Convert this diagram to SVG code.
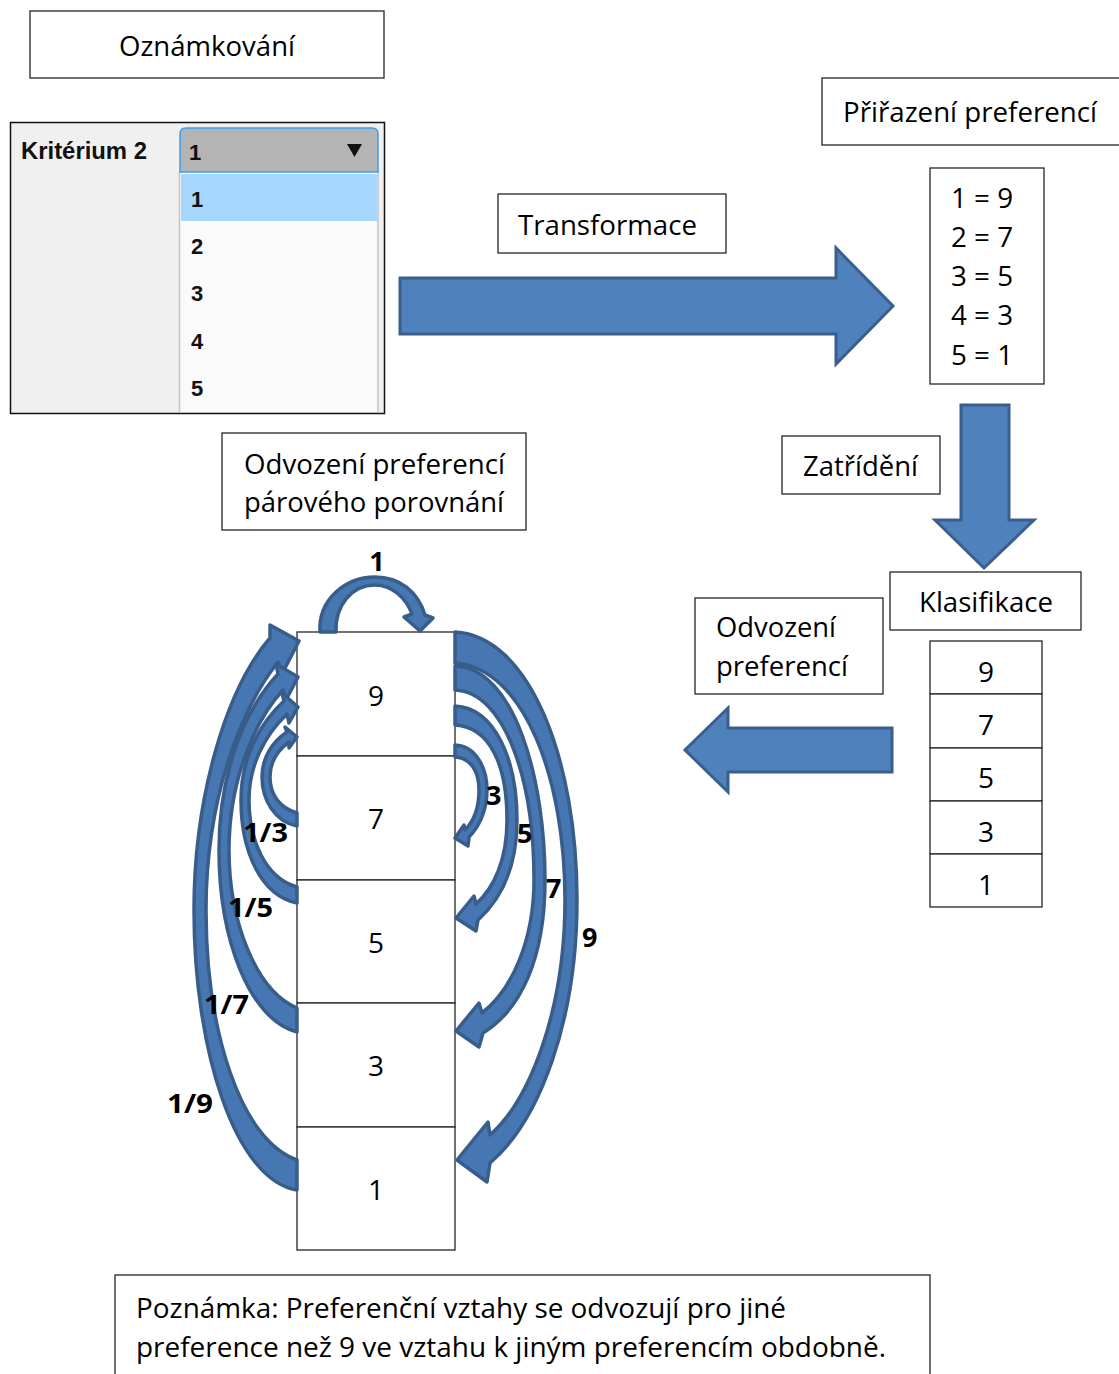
<svg xmlns="http://www.w3.org/2000/svg" width="1119" height="1374" viewBox="0 0 1119 1374">
<style>
.box{fill:#fff;stroke:#262626;stroke-width:1.3}
.t{font-family:"Open Sans","Noto Sans",sans-serif;font-size:28px;fill:#000}
.c{text-anchor:middle}
.b{font-family:"Open Sans","Noto Sans",sans-serif;font-size:27px;font-weight:bold;fill:#000}
.ui{font-family:"Liberation Sans",Arial,sans-serif;font-weight:bold;fill:#111}
.arr{fill:#4f81bd;stroke:#3a5f8d;stroke-width:3;stroke-linejoin:miter}
.carr{fill:#4677b2;stroke:#395d8b;stroke-width:3.5;stroke-linejoin:round}
</style>
<rect width="1119" height="1374" fill="#fff"/>

<g id="oznamkovani">
<rect class="box" x="30" y="11" width="354" height="67"/>
<text class="t" x="119" y="56" textLength="176" lengthAdjust="spacingAndGlyphs">Oznámkování</text>
</g>

<g id="dropdown">
<rect x="10.5" y="122.5" width="374" height="291" fill="#f0f0f0" stroke="#111" stroke-width="1.5"/>
<rect x="179" y="172" width="199" height="240" fill="#fafafa"/>
<line x1="179.5" y1="172" x2="179.5" y2="412" stroke="#c4c4c4" stroke-width="1.5"/>
<line x1="378" y1="172" x2="378" y2="412" stroke="#c4c4c4" stroke-width="1.5"/>
<rect x="181" y="174" width="196" height="47" fill="#a6d8ff"/>
<path d="M180,172 L180,134 Q180,128 186,128 L372,128 Q378,128 378,134 L378,172 Z" fill="#b4b4b4" stroke="#3a9ff0" stroke-width="1.5"/>
<polygon points="347,144 362,144 354.5,157" fill="#111"/>
<text class="ui" x="21" y="159" font-size="24" textLength="126" lengthAdjust="spacingAndGlyphs">Kritérium 2</text>
<text class="ui" x="189" y="160" font-size="22">1</text>
<text class="ui" x="191" y="207" font-size="22">1</text>
<text class="ui" x="191" y="254" font-size="22">2</text>
<text class="ui" x="191" y="301" font-size="22">3</text>
<text class="ui" x="191" y="349" font-size="22">4</text>
<text class="ui" x="191" y="396" font-size="22">5</text>
</g>

<g id="transformace">
<rect class="box" x="498" y="194" width="228" height="59"/>
<text class="t" x="518" y="235" textLength="179" lengthAdjust="spacingAndGlyphs">Transformace</text>
</g>

<g id="prirazeni">
<rect class="box" x="822" y="78" width="310" height="67"/>
<text class="t" x="843" y="122" textLength="254" lengthAdjust="spacingAndGlyphs">Přiřazení preferencí</text>
</g>

<g id="mapovani">
<rect class="box" x="930" y="168" width="114" height="216"/>
<text class="t" x="951" y="208" textLength="62" lengthAdjust="spacingAndGlyphs">1 = 9</text>
<text class="t" x="951" y="247" textLength="62" lengthAdjust="spacingAndGlyphs">2 = 7</text>
<text class="t" x="951" y="286" textLength="62" lengthAdjust="spacingAndGlyphs">3 = 5</text>
<text class="t" x="951" y="325" textLength="62" lengthAdjust="spacingAndGlyphs">4 = 3</text>
<text class="t" x="951" y="365" textLength="62" lengthAdjust="spacingAndGlyphs">5 = 1</text>
</g>

<g id="zatrideni">
<rect class="box" x="782" y="436" width="158" height="58"/>
<text class="t" x="803" y="476" textLength="115" lengthAdjust="spacingAndGlyphs">Zatřídění</text>
</g>

<g id="klasifikace">
<rect class="box" x="890" y="572" width="191" height="58"/>
<text class="t" x="919" y="612" textLength="134" lengthAdjust="spacingAndGlyphs">Klasifikace</text>
</g>

<g id="odvozeni-preferenci">
<rect class="box" x="695" y="598" width="188" height="96"/>
<text class="t" x="716" y="637" textLength="120" lengthAdjust="spacingAndGlyphs">Odvození</text>
<text class="t" x="716" y="676" textLength="132" lengthAdjust="spacingAndGlyphs">preferencí</text>
</g>

<g id="klasifikace-stack">
<rect class="box" x="930" y="641" width="112" height="53"/>
<rect class="box" x="930" y="694" width="112" height="54"/>
<rect class="box" x="930" y="748" width="112" height="53"/>
<rect class="box" x="930" y="801" width="112" height="53"/>
<rect class="box" x="930" y="854" width="112" height="53"/>
<text class="t c" x="986" y="682">9</text>
<text class="t c" x="986" y="735">7</text>
<text class="t c" x="986" y="788">5</text>
<text class="t c" x="986" y="842">3</text>
<text class="t c" x="986" y="895">1</text>
</g>

<g id="odvozeni-parove">
<rect class="box" x="222" y="433" width="304" height="97"/>
<text class="t" x="244" y="474" textLength="261" lengthAdjust="spacingAndGlyphs">Odvození preferencí</text>
<text class="t" x="244" y="512" textLength="260" lengthAdjust="spacingAndGlyphs">párového porovnání</text>
</g>

<g id="stack-9"><rect class="box" x="297" y="632" width="158" height="124"/><text class="t c" x="376" y="706">9</text></g>
<g id="stack-7"><rect class="box" x="297" y="756" width="158" height="124"/><text class="t c" x="376" y="829">7</text></g>
<g id="stack-5"><rect class="box" x="297" y="880" width="158" height="123"/><text class="t c" x="376" y="953">5</text></g>
<g id="stack-3"><rect class="box" x="297" y="1003" width="158" height="124"/><text class="t c" x="376" y="1076">3</text></g>
<g id="stack-1"><rect class="box" x="297" y="1127" width="158" height="123"/><text class="t c" x="376" y="1200">1</text></g>

<g id="poznamka">
<rect class="box" x="115" y="1275" width="815" height="130"/>
<text class="t" x="136" y="1318" textLength="650" lengthAdjust="spacingAndGlyphs">Poznámka: Preferenční vztahy se odvozují pro jiné</text>
<text class="t" x="136" y="1357" textLength="750" lengthAdjust="spacingAndGlyphs">preference než 9 ve vztahu k jiným preferencím obdobně.</text>
</g>

<g id="connectors">
<polygon class="arr" points="400,278 836,278 836,248 893,306 836,364 836,334 400,334"/>
<polygon class="arr" points="961,405 1009,405 1009,520 1034,520 984,568 935,520 961,520"/>
<polygon class="arr" points="892,728 728,728 728,708 685,750 728,792 728,772 892,772"/>

<path class="carr" d="M320,632 C318,600 345,577 375,577 C400,577 418,592 425,615 L433,618 L420,631 L404,617 L412,614 C406,598 392,585 375,585 C352,585 335,605 336,632 Z"/>

<path class="carr" d="M455,632 C530,636 577,760 577,900 C577,1020 540,1120 490,1163 L487,1182 L457,1160 L488,1122 L490,1135 C530,1100 565,1010 565,900 C565,780 525,668 455,663 Z"/>
<path class="carr" d="M455,666 C515,668 545,780 545,880 C545,960 520,1010 483,1033 L479,1047 L456,1031 L479,1003 L482,1013 C512,990 534,940 534,880 C534,780 505,692 455,690 Z"/>
<path class="carr" d="M455,706 C495,708 517,760 517,820 C517,870 500,900 478,920 L476,931 L456,918 L474,896 L476,904 C494,888 507,860 507,820 C507,765 490,727 455,725 Z"/>
<path class="carr" d="M455,745 C476,746 487,768 487,790 C487,812 478,828 469,837 L468,846 L455,838 L464,825 L465,830 C473,822 479,808 479,790 C479,770 470,758 455,757 Z"/>

<path class="carr" d="M297,1160 C240,1140 206,1030 206,910 C206,800 240,710 278,662 L283,672 L299,641 L270,625 L270,638 C225,690 194,800 194,910 C194,1050 235,1180 297,1190 Z"/>
<path class="carr" d="M297,1008 C255,990 229,920 229,850 C229,780 255,720 283,690 L286,700 L298,677 L276,664 L278,674 C240,715 219,780 219,850 C219,940 250,1020 297,1032 Z"/>
<path class="carr" d="M297,887 C265,878 249,840 249,800 C249,765 265,735 287,714 L289,723 L298,707 L282,693 L284,701 C258,725 241,760 241,800 C241,850 260,895 297,903 Z"/>
<path class="carr" d="M297,813 C280,808 270,795 270,777 C270,762 278,750 289,742 L289,748 L297,737 L285,727 L287,732 C272,742 262,758 262,777 C262,800 275,822 297,826 Z"/>

<text class="b c" x="377" y="571">1</text>
<text class="b" x="486" y="805">3</text>
<text class="b" x="517" y="843">5</text>
<text class="b" x="546" y="898">7</text>
<text class="b" x="582" y="947">9</text>
<text class="b" x="243" y="842" textLength="45" lengthAdjust="spacingAndGlyphs">1/3</text>
<text class="b" x="228" y="917" textLength="45" lengthAdjust="spacingAndGlyphs">1/5</text>
<text class="b" x="204" y="1014" textLength="45" lengthAdjust="spacingAndGlyphs">1/7</text>
<text class="b" x="167" y="1113" textLength="46" lengthAdjust="spacingAndGlyphs">1/9</text>
</g>
</svg>
